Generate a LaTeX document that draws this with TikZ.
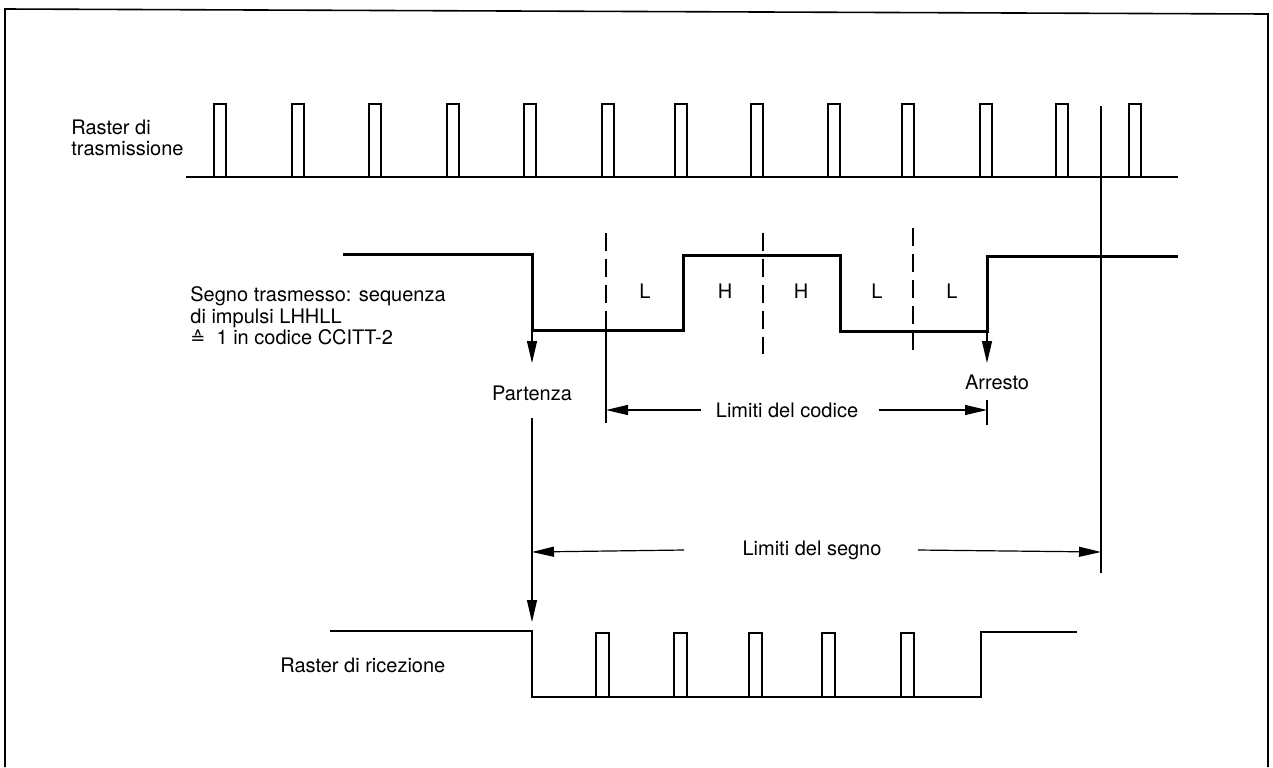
\documentclass[tikz,border=0pt]{standalone}
\usepackage{fontspec}
\setmainfont{TeX Gyre Heros}
\newfontfamily\symfont{DejaVu Sans}
\usetikzlibrary{arrows.meta}
\begin{document}
\begin{tikzpicture}[x=0.5pt,y=-0.5pt,
  lbl/.style={font=\fontsize{10}{10.8}\selectfont, inner sep=0pt},
  frameline/.style={line width=0.8pt},
  raster/.style={line width=0.9pt},
  sig/.style={line width=1.5pt},
  thinline/.style={line width=0.6pt},
  dsh/.style={line width=0.7pt, dash pattern=on 9pt off 4pt},
  tip/.style={-{Triangle[length=11pt,width=5pt]}},
]
\useasboundingbox (0,0) rectangle (1273,767);
\draw[frameline] (5,767) -- (5,9) -- (1268,14) -- (1268,767);

% transmission raster
\draw[raster] (186,177) -- (1178,177);
\foreach \x in {214,292,369,447,524,602,675,751,828,902,980,1056,1129}
  \draw[raster] (\x,177) -- (\x,104) -- (\x+12,104) -- (\x+12,177);
\node[lbl, align=left, anchor=west] (rt) at (71,138) {Raster di\\trasmissione};

% transmitted sign
\draw[sig] (343,254) -- (532,254) -- (532,330) -- (683,330) -- (683,255)
  -- (840,255) -- (840,331) -- (987,331) -- (987,256) -- (1178,256);
\draw[dsh] (606,233) -- (606,330);
\draw[thinline] (606,330) -- (606,423);
\draw[dsh] (763,233) -- (763,354);
\draw[dsh] (913,228) -- (913,357);
\node[lbl] (b1) at (645,291) {L};
\node[lbl] (b2) at (725,291) {H};
\node[lbl] (b3) at (801,291) {H};
\node[lbl] (b4) at (877,291) {L};
\node[lbl] (b5) at (952,291) {L};
\node[lbl, align=left, anchor=west] (seg) at (190,316)
  {Segno trasmesso: sequenza\\di impulsi LHHLL\\{\symfont\small ≙}\ \ 1 in codice CCITT-2};

% start / stop
\coordinate (st0) at (532,330);
\coordinate (st1) at (532,363);
\draw[thinline,tip] (st0) -- (st1);
\node[lbl] (par) at (532,393) {Partenza};
\coordinate (sp0) at (987,331);
\coordinate (sp1) at (987,363);
\draw[thinline,tip] (sp0) -- (sp1);
\node[lbl] (arr) at (997,382) {Arresto};

% code limits
\node[lbl] (lc) at (787,410) {Limiti del codice};
\coordinate (cl) at (606,410);
\coordinate (cr) at (987,410);
\draw[thinline,tip] ([xshift=-7pt]lc.west) -- (cl);
\draw[thinline,tip] ([xshift=10pt]lc.east) -- (cr);
\draw[thinline] (987,400) -- (987,425);

% sign limits
\coordinate (pv0) at (532,418);
\coordinate (pv1) at (532,622);
\draw[thinline,tip] (pv0) -- (pv1);
\coordinate (rv0) at (1101,106);
\coordinate (rv1) at (1101,573);
\draw[thinline] (rv0) -- (rv1);
\node[lbl] (ls) at (812,550) {Limiti del segno};
\coordinate (sl) at (532,552);
\coordinate (sr) at (1101,552);
\draw[thinline,tip] ([xshift=-29pt]ls.west) -- (sl);
\draw[thinline,tip] ([xshift=18pt]ls.east) -- (sr);

% receiving raster
\draw[raster] (330,631) -- (532,631) -- (532,697) -- (981,697) -- (981,632) -- (1077,632);
\foreach \x in {596,674,749,822,901}
  \draw[raster] (\x,697) -- (\x,633) -- (\x+13,633) -- (\x+13,697);
\node[lbl, anchor=west] (rr) at (280,665) {Raster di ricezione};
\end{tikzpicture}
\end{document}
